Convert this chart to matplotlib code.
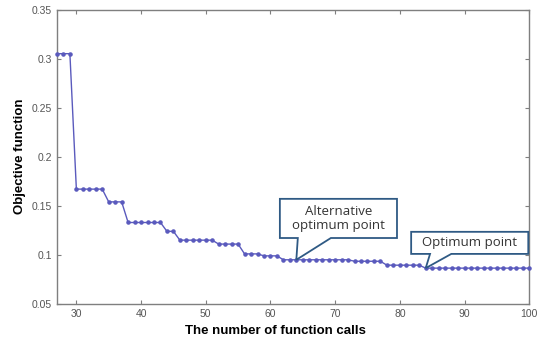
import matplotlib
matplotlib.use("Agg")
import matplotlib.pyplot as plt
from matplotlib.patches import Polygon

# function calls and objective value
calls = list(range(27, 101))
steps = [  # (first call, last call, objective value)
    (27, 29, 0.305),
    (30, 34, 0.167),
    (35, 37, 0.154),
    (38, 43, 0.133),
    (44, 45, 0.124),
    (46, 51, 0.115),
    (52, 55, 0.111),
    (56, 58, 0.101),
    (59, 61, 0.099),
    (62, 72, 0.095),
    (73, 77, 0.0935),
    (78, 83, 0.0895),
    (84, 100, 0.0865),
]
objective = []
for a, b, v in steps:
    objective += [v] * (b - a + 1)

x_ticks = [30, 40, 50, 60, 70, 80, 90, 100]
y_ticks = [0.05, 0.1, 0.15, 0.2, 0.25, 0.3, 0.35]
y_tick_labels = ["0.05", "0.1", "0.15", "0.2", "0.25", "0.3", "0.35"]

alt_point = (64, 0.095)
opt_point = (84, 0.0865)

plt.rcParams["font.family"] = ["Liberation Sans", "DejaVu Sans"]

fig = plt.figure(figsize=(5.53, 3.4), dpi=100)
ax = fig.add_axes([0.103, 0.106, 0.854, 0.866])

ax.plot(calls, objective, color="#5a5abd", lw=1.0, marker=".", ms=4.5,
        clip_on=False, zorder=3)

ax.set_xlim(27, 100)
ax.set_ylim(0.05, 0.35)
ax.set_xticks(x_ticks)
ax.set_yticks(y_ticks)
ax.set_yticklabels(y_tick_labels)

gray = "#7f7f7f"
for s in ax.spines.values():
    s.set_color(gray)
    s.set_linewidth(1.0)
ax.tick_params(direction="in", top=True, right=True, length=3, width=0.8,
               color=gray, labelcolor="#555555", labelsize=7.5)

ax.set_xlabel("The number of function calls", fontsize=9.5, fontweight="bold")
ax.xaxis.set_label_coords(0.463, -0.072)
ax.set_ylabel("Objective function", fontsize=9.5, fontweight="bold", labelpad=4)


def callout(ax, box, notch, tip, text):
    # box = (x0, y0, x1, y1) and notch = (left, right) in axes fraction
    x0, y0, x1, y1 = box
    tx, ty = (ax.transData + ax.transAxes.inverted()).transform(tip)
    pts = [(x0, y0), (notch[0], y0), (tx, ty), (notch[1], y0), (x1, y0),
           (x1, y1), (x0, y1)]
    poly = Polygon(pts, closed=True, transform=ax.transAxes, fc="white",
                   ec="#2f5a84", lw=1.3, zorder=4, clip_on=False)
    ax.add_patch(poly)
    ax.text((x0 + x1) / 2, (y0 + y1) / 2, text, transform=ax.transAxes,
            ha="center", va="center", fontsize=9.5, color="#333333",
            family=["Open Sans", "DejaVu Sans"], linespacing=1.05, zorder=5)


callout(ax, (0.472, 0.224, 0.720, 0.357), (0.51, 0.58), alt_point,
        "Alternative\noptimum point")
callout(ax, (0.750, 0.170, 0.998, 0.245), (0.79, 0.835), opt_point,
        "Optimum point")

fig.savefig("out.png", dpi=100)
